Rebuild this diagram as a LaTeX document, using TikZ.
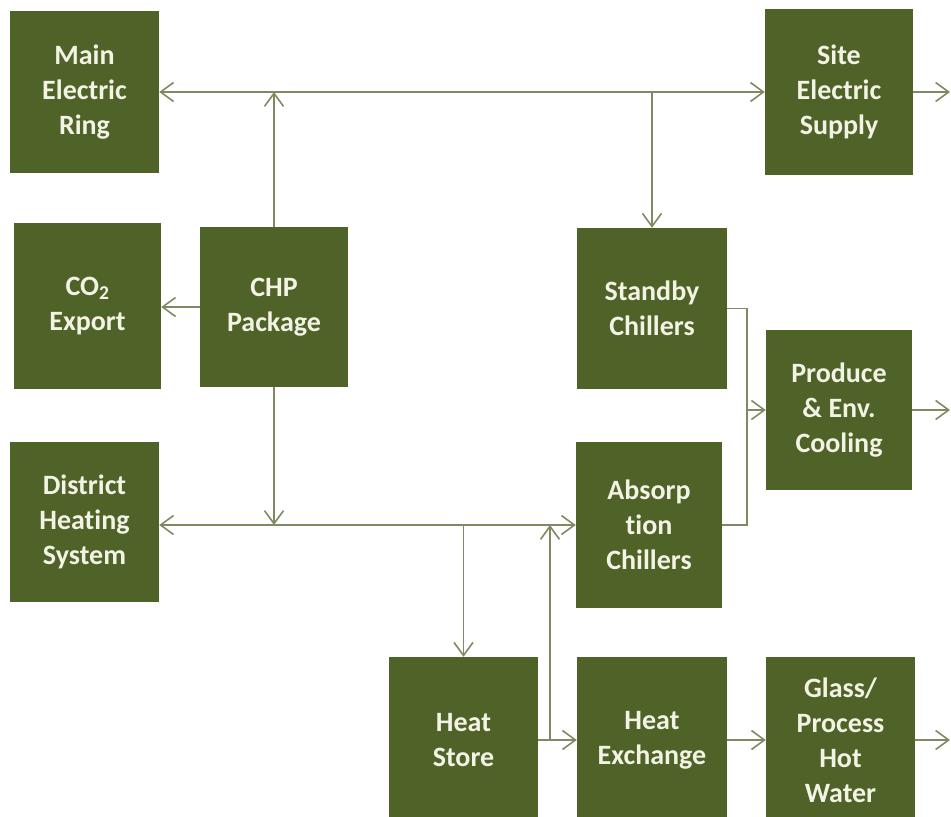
\documentclass[tikz,border=0pt]{standalone}
\usepackage{fontspec}
\setmainfont{Carlito}[Ligatures={NoCommon}]
\usetikzlibrary{arrows.meta}
\definecolor{olivebox}{RGB}{79,98,40}
\definecolor{olivetext}{RGB}{242,243,228}
\definecolor{flowline}{RGB}{128,138,98}
\tikzset{
  unit/.style={fill=olivebox,text=olivetext,inner sep=0pt,align=center,
    font=\fontsize{28}{35}\selectfont\bfseries},
  flow/.style={draw=flowline,line width=1.6pt,-{Straight Barb[length=13pt,width=19pt,line width=1.6pt]}},
  bus/.style={draw=flowline,line width=1.6pt}
}
\begin{document}
\begin{tikzpicture}[x=1pt,y=-1pt]
\useasboundingbox (0,0) rectangle (951,817);
%\draw [thick] (0,0) rectangle (951,817);
\node [unit,minimum width=149pt,minimum height=162pt] (ring) at (84.5,92) {Main\\Electric\\Ring};
\node [unit,minimum width=148pt,minimum height=166pt] (site) at (839,92) {Site\\Electric\\Supply};
\node [unit,minimum width=147pt,minimum height=166pt] (co2) at (87.5,306) {CO\textsubscript{2}\\Export};
\node [unit,minimum width=148pt,minimum height=160pt] (chp) at (274,307) {CHP\\Package};
\node [unit,minimum width=150pt,minimum height=161pt] (standby) at (652,308.5) {Standby\\Chillers};
\node [unit,minimum width=146pt,minimum height=160pt] (produce) at (839,410) {Produce\\\&~Env.\\Cooling};
\node [unit,minimum width=149pt,minimum height=160pt] (district) at (84.5,522) {District\\Heating\\System};
\node [unit,minimum width=146pt,minimum height=166pt] (absorp) at (649,525) {Absorp\\tion\\Chillers};
\node [unit,minimum width=149pt,minimum height=166pt] (store) at (463.5,740) {Heat\\Store};
\node [unit,minimum width=150pt,minimum height=166pt] (exchange) at (652,740) {Heat\\Exchange};
\node [unit,minimum width=149pt,minimum height=166pt] (glass) at (840.5,740) {Glass/\\Process\\Hot\\Water};

\coordinate (siteout) at (950,92);
\coordinate (coolout) at (950,410);
\coordinate (glassout) at (950,740);
\coordinate (cooljoin) at (747,410);
\coordinate (tap) at (550,740);

\draw [flow,{Straight Barb[length=13pt,width=19pt,line width=1.6pt]}-{Straight Barb[length=13pt,width=19pt,line width=1.6pt]}](ring.east)--(site.west);
\draw [flow](chp.north)--(chp.north |- ring.east);
\draw [flow](standby.north |- ring.east)--(standby.north);
\draw [flow](site.east)--(siteout);
\draw [flow](chp.west)--(co2.east |- chp.west);

\draw [flow,{Straight Barb[length=13pt,width=19pt,line width=1.6pt]}-{Straight Barb[length=13pt,width=19pt,line width=1.6pt]}](district.east |- absorp.west)--(absorp.west);
\draw [flow](chp.south)--(chp.south |- absorp.west);
\draw [flow](store.north |- absorp.west)--(store.north);
\draw [flow](tap)--(tap |- absorp.west);

\draw [bus](standby.east)-|(cooljoin);
\draw [bus](absorp.east)-|(cooljoin);
\draw [flow](cooljoin)--(produce.west);
\draw [flow](produce.east)--(coolout);

\draw [flow](store.east)--(exchange.west);
\draw [flow](exchange.east)--(glass.west);
\draw [flow](glass.east)--(glassout);
\end{tikzpicture}
\end{document}
